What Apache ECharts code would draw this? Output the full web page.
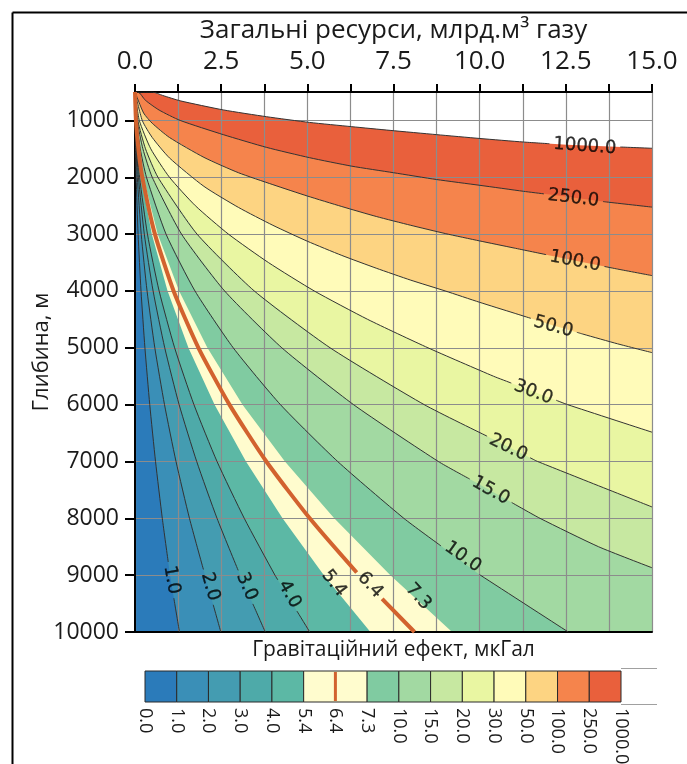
<!DOCTYPE html>
<html>
<head>
<meta charset="utf-8">
<script src="https://cdn.jsdelivr.net/npm/echarts@6/dist/echarts.min.js"></script>
<style>html,body{margin:0;padding:0;background:#fff;}#c{width:687px;height:764px;}</style>
</head>
<body>
<div id="c"></div>
<script>
// ---- level scale (colour bar) ----
const levels = [0, 1, 2, 3, 4, 5.4, 6.4, 7.3, 10, 15, 20, 30, 50, 100, 250, 1000];
const levelLabels = ['0.0','1.0','2.0','3.0','4.0','5.4','6.4','7.3','10.0','15.0','20.0','30.0','50.0','100.0','250.0','1000.0'];
const bandColors = ['#2b7bba','#3a8fb7','#449cb1','#4eaaa9','#5cb8a5','#fffcce','#fffcce','#80cba1','#a2d9a2','#c7e8a1','#e9f6a2','#fffbb9','#fdd482','#f5844c','#e9603c'];

// ---- axis tick labels ----
const xLabelValues = [0, 2.5, 5, 7.5, 10, 12.5, 15];
const yLabelValues = [1000, 2000, 3000, 4000, 5000, 6000, 7000, 8000, 9000, 10000];

// ---- contour lines: [resources (bcm), depth (m)] ----
const contour1000 = [[0,500],[0.5,500],[0.8,560],[1.31,655],[2.56,815],[3.82,935],[5.06,1035],[6.29,1110],[7.4,1175],[8.75,1250],[10.01,1318],[11.27,1380],[12.53,1430],[15,1490]];
const contour250 = [[0,500],[0.09,500],[0.3,645],[0.7,818],[1.31,1000],[2.56,1250],[3.82,1475],[5.06,1655],[6.29,1805],[7.5,1920],[8.75,2040],[10.01,2142],[11.27,2247],[12.5,2340],[13.68,2435],[15,2525]];
const contour100 = [[0,500],[0.25,870],[0.5,1050],[1,1300],[2,1650],[3,1920],[4,2130],[5,2330],[6,2515],[7,2690],[8,2845],[9,2990],[10,3120],[11,3245],[12,3370],[13,3495],[14,3615],[15,3730]];
const contour50 = [[0,500],[0.21,1000],[0.5,1300],[1,1660],[2,2160],[3,2530],[4,2845],[5,3125],[6,3375],[7,3600],[8,3810],[9,4000],[10,4200],[11,4390],[12,4580],[13,4760],[14,4930],[15,5085]];
const contour30 = [[0,500],[0.125,1000],[0.458,1500],[1.0,2000],[1.75,2500],[2.71,3000],[3.87,3500],[5.2,4000],[6.75,4500],[8.5,5000],[10.4,5500],[12.55,6000],[15,6485]];
const contour20 = [[0,500],[0.083,1000],[0.305,1500],[0.666,2000],[1.8,3000],[3.46,4000],[5.66,5000],[8.39,6000],[11.68,7000],[15,7800]];
const contour15 = [[0,500],[0.063,1000],[0.229,1500],[0.5,2000],[1.35,3000],[2.6,4000],[4.26,5000],[6.34,6000],[8.8,7000],[11.75,8000],[13.45,8500],[15,8870]];
const contour10 = [[0,500],[0.042,1000],[0.153,1500],[0.333,2000],[0.9,3000],[1.74,4000],[2.85,5000],[4.22,6000],[5.88,7000],[7.8,8000],[10.02,9000],[12.57,10000]];
const contour7_3 = [[0,500],[0.03,1000],[0.111,1500],[0.243,2000],[0.659,3000],[1.28,4000],[2.1,5000],[3.12,6000],[4.35,7000],[5.78,8000],[7.41,9000],[9.2,10000]];
const contour6_4 = [[0,500],[0.027,1000],[0.098,1500],[0.213,2000],[0.578,3000],[1.12,4000],[1.84,5000],[2.74,6000],[3.81,7000],[5.07,8000],[6.5,9000],[8.11,10000]];
const contour5_4 = [[0,500],[0.023,1000],[0.082,1500],[0.18,2000],[0.487,3000],[0.945,4000],[1.55,5000],[2.31,6000],[3.22,7000],[4.28,8000],[5.48,9000],[6.83,10000]];
const contour4 = [[0,500],[0.017,1000],[0.061,1500],[0.133,2000],[0.361,3000],[0.7,4000],[1.15,5000],[1.71,6000],[2.38,7000],[3.17,8000],[4.06,9000],[5.07,10000]];
const contour3 = [[0,500],[0.013,1000],[0.046,1500],[0.1,2000],[0.27,3000],[0.525,4000],[0.863,5000],[1.28,6000],[1.79,7000],[2.38,8000],[3.05,9000],[3.78,10000]];
const contour2 = [[0,500],[0.008,1000],[0.031,1500],[0.067,2000],[0.18,3000],[0.35,4000],[0.575,5000],[0.856,6000],[1.19,7000],[1.58,8000],[2.03,9000],[2.49,10000]];
const contour1 = [[0,500],[0.004,1000],[0.015,1500],[0.033,2000],[0.09,3000],[0.175,4000],[0.288,5000],[0.428,6000],[0.596,7000],[0.792,8000],[1.016,9000],[1.29,10000]];

const contourLevels = [1000, 250, 100, 50, 30, 20, 15, 10, 7.3, 6.4, 5.4, 4, 3, 2, 1];
const contourLines = [contour1000, contour250, contour100, contour50, contour30, contour20, contour15, contour10, contour7_3, contour6_4, contour5_4, contour4, contour3, contour2, contour1];

// ---- contour labels (same order as contourLevels) ----
const contourLabelText = ['1000.0','250.0','100.0','50.0','30.0','20.0','15.0','10.0','7.3','6.4','5.4','4.0','3.0','2.0','1.0'];
const contourLabelAt = [[13.05,1456],[12.72,2368],[12.77,3478],[12.14,4630],[11.56,5785],[10.83,6755],[10.32,7515],[9.51,8680],[8.22,9378],[6.82,9173],[5.77,9143],[4.48,9337],[3.24,9202],[2.18,9202],[1.06,9085]];
const contourLabelAngle = [-4, -7, -11, -15, -21, -26, -29, -35, -48, -47, -52, -60, -67, -74, -80];

// ---- build ----
const FONT = 'Open Sans';
const LABEL_FONT = 'DejaVu Sans';
const LABEL_SIZE = 18;
const chart = echarts.init(document.getElementById('c'), null, { renderer: 'canvas' });

function strokeStyleFor(L) {
  if (L === 6.4) return { color: '#d2622e', width: 4 };
  return { color: '#333333', width: 1 };
}

const series = [];
contourLevels.forEach((L, i) => {
  const bandIdx = levels.indexOf(L) - 1;
  series.push({
    type: 'line', xAxisIndex: 0, yAxisIndex: 0, z: 1,
    data: contourLines[i], showSymbol: false, symbol: 'none', silent: true,
    lineStyle: { width: 0, opacity: 0 },
    areaStyle: { color: bandColors[bandIdx], opacity: 1, origin: 'end' }
  });
});

const strokeSeriesIdx = {};
contourLevels.forEach((L, i) => {
  if (L === 5.4 || L === 7.3) return;
  strokeSeriesIdx[i] = series.length;
  series.push({
    type: 'line', xAxisIndex: 0, yAxisIndex: 0, z: L === 6.4 ? 5 : 4,
    data: contourLines[i], showSymbol: false, symbol: 'none', silent: true, smooth: 0.2,
    connectNulls: false,
    lineStyle: strokeStyleFor(L)
  });
});

series.push({
  type: 'scatter', xAxisIndex: 0, yAxisIndex: 0, z: 6, silent: true,
  symbolSize: 1, itemStyle: { color: 'rgba(0,0,0,0)' },
  data: contourLabelAt.map((p, i) => ({
    value: p,
    label: {
      show: true, position: 'inside', rotate: contourLabelAngle[i],
      formatter: contourLabelText[i],
      fontFamily: LABEL_FONT, fontSize: LABEL_SIZE, color: '#000',
      textBorderColor: '#000', textBorderWidth: 0.3
    }
  }))
});

// colour bar boxes (merge identical neighbouring colours)
const cbBoxes = [];
bandColors.forEach((c, i) => {
  const last = cbBoxes[cbBoxes.length - 1];
  if (last && bandColors[last[2]] === c) last[1] = i + 1;
  else cbBoxes.push([i, i + 1, i]);
});
series.push({
  type: 'custom', xAxisIndex: 2, yAxisIndex: 2, z: 3, silent: true,
  data: cbBoxes,
  renderItem: (params, api) => {
    const p0 = api.coord([api.value(0), 1]);
    const p1 = api.coord([api.value(1), 0]);
    return { type: 'rect', shape: { x: p0[0], y: p0[1], width: p1[0] - p0[0], height: p1[1] - p0[1] },
      style: { fill: bandColors[api.value(2)], stroke: '#2a2a2a', lineWidth: 1 } };
  }
});
series.push({
  type: 'custom', xAxisIndex: 2, yAxisIndex: 2, z: 4, silent: true,
  data: [[levels.indexOf(6.4)]],
  renderItem: (params, api) => {
    const a = api.coord([api.value(0), 1]);
    const b = api.coord([api.value(0), 0]);
    return { type: 'line', shape: { x1: a[0], y1: a[1] + 1, x2: b[0], y2: b[1] - 1 },
      style: { stroke: '#d2622e', lineWidth: 3 } };
  }
});

const option = {
  animation: false,
  backgroundColor: '#ffffff',
  textStyle: { fontFamily: FONT },
  grid: [
    { left: 135, top: 92, width: 517, height: 540, outerBoundsMode: 'none', containLabel: false },
    { left: 145, top: 671, width: 476, height: 31, outerBoundsMode: 'none', containLabel: false }
  ],
  xAxis: [
    { type: 'value', gridIndex: 0, position: 'top', min: 0, max: 15, interval: 1.25, z: 3,
      name: 'Загальні ресурси, млрд.м³ газу', nameLocation: 'middle', nameGap: 48,
      nameTextStyle: { fontSize: 26, color: '#1a1a1a', fontFamily: FONT },
      axisLine: { show: true, lineStyle: { color: '#000', width: 2 } },
      axisTick: { show: true, inside: false, length: 8, lineStyle: { color: '#000', width: 2 } },
      axisLabel: { customValues: xLabelValues, formatter: v => v.toFixed(1), fontSize: 26, color: '#1a1a1a', margin: 17, fontFamily: FONT },
      splitLine: { show: true, lineStyle: { color: '#8c8c8c', width: 1.2 } } },
    { type: 'value', gridIndex: 0, position: 'bottom', min: 0, max: 15, z: 3,
      name: 'Гравітаційний ефект, мкГал', nameLocation: 'middle', nameGap: 8,
      nameTextStyle: { fontSize: 21, color: '#1a1a1a', fontFamily: FONT },
      axisLine: { show: true, lineStyle: { color: '#000', width: 2 } },
      axisTick: { show: false }, axisLabel: { show: false }, splitLine: { show: false } },
    { type: 'value', gridIndex: 1, position: 'bottom', min: 0, max: 15, interval: 1,
      axisLine: { show: false }, axisTick: { show: false }, splitLine: { show: false },
      axisLabel: { customValues: levels.map((v, i) => i), formatter: v => levelLabels[Math.round(v)],
        rotate: -90, fontSize: 18, color: '#1a1a1a', margin: 6, fontFamily: FONT } }
  ],
  yAxis: [
    { type: 'value', gridIndex: 0, inverse: true, min: 500, max: 10000, interval: 500, z: 3,
      name: 'Глибина, м', nameLocation: 'middle', nameGap: 82, nameMoveOverlap: false,
      nameTextStyle: { fontSize: 22, color: '#1a1a1a', fontFamily: FONT, padding: [0, 0, 0, 20] },
      axisLine: { show: true, lineStyle: { color: '#000', width: 2 } },
      axisTick: { show: true, customValues: yLabelValues, length: 10, lineStyle: { color: '#000', width: 2 } },
      axisLabel: { customValues: yLabelValues, formatter: v => String(v), fontSize: 23, color: '#1a1a1a', margin: 16, fontFamily: FONT },
      splitLine: { show: true, lineStyle: { color: '#8c8c8c', width: 1.2 } } },
    { type: 'value', gridIndex: 0, position: 'right', inverse: true, min: 500, max: 10000, z: 3,
      axisLine: { show: true, lineStyle: { color: '#000', width: 2 } },
      axisTick: { show: false }, axisLabel: { show: false }, splitLine: { show: false } },
    { type: 'value', gridIndex: 1, min: 0, max: 1, show: false }
  ],
  graphic: [
    { type: 'line', shape: { x1: 12.5, y1: 12.5, x2: 12.5, y2: 764 }, style: { stroke: '#000', lineWidth: 2 } },
    { type: 'line', shape: { x1: 12.5, y1: 12.5, x2: 687, y2: 12.5 }, style: { stroke: '#000', lineWidth: 2 } },
    { type: 'line', shape: { x1: 621, y1: 668.5, x2: 657, y2: 668.5 }, style: { stroke: '#a0a0a0', lineWidth: 1 } },
    { type: 'line', shape: { x1: 621, y1: 704.5, x2: 657, y2: 704.5 }, style: { stroke: '#a0a0a0', lineWidth: 1 } }
  ],
  series: series
};
chart.setOption(option);

// ---- break the contour strokes where their labels sit ----
const measureCtx = document.createElement('canvas').getContext('2d');
measureCtx.font = LABEL_SIZE + 'px "' + LABEL_FONT + '"';
const finder = { xAxisIndex: 0, yAxisIndex: 0 };
function cutAround(points, labelAt, halfLen) {
  const px = points.map(p => chart.convertToPixel(finder, p));
  const c = chart.convertToPixel(finder, labelAt);
  const cum = [0];
  for (let k = 1; k < px.length; k++) cum.push(cum[k - 1] + Math.hypot(px[k][0] - px[k - 1][0], px[k][1] - px[k - 1][1]));
  let best = { d: Infinity, s: 0 };
  for (let k = 1; k < px.length; k++) {
    const ax = px[k - 1][0], ay = px[k - 1][1], bx = px[k][0], by = px[k][1];
    const dx = bx - ax, dy = by - ay, l2 = dx * dx + dy * dy;
    let t = l2 ? ((c[0] - ax) * dx + (c[1] - ay) * dy) / l2 : 0;
    t = Math.max(0, Math.min(1, t));
    const d = Math.hypot(ax + t * dx - c[0], ay + t * dy - c[1]);
    if (d < best.d) best = { d: d, s: cum[k - 1] + t * (cum[k] - cum[k - 1]) };
  }
  const s0 = best.s - halfLen, s1 = best.s + halfLen;
  const at = s => {
    for (let k = 1; k < px.length; k++) {
      if (s <= cum[k]) {
        const t = (s - cum[k - 1]) / ((cum[k] - cum[k - 1]) || 1);
        return chart.convertFromPixel(finder, [px[k - 1][0] + t * (px[k][0] - px[k - 1][0]), px[k - 1][1] + t * (px[k][1] - px[k - 1][1])]);
      }
    }
    return points[points.length - 1];
  };
  const out = [];
  for (let k = 0; k < points.length; k++) if (cum[k] < s0) out.push(points[k]);
  out.push(at(s0));
  out.push(['-', '-']);
  out.push(at(s1));
  for (let k = 0; k < points.length; k++) if (cum[k] > s1) out.push(points[k]);
  return out;
}
const newSeries = series.map(() => ({}));
Object.keys(strokeSeriesIdx).forEach(key => {
  const i = +key;
  const w = measureCtx.measureText(contourLabelText[i]).width;
  newSeries[strokeSeriesIdx[i]] = { data: cutAround(contourLines[i], contourLabelAt[i], w / 2 + 4) };
});
chart.setOption({ series: newSeries });
</script>
</body>
</html>
